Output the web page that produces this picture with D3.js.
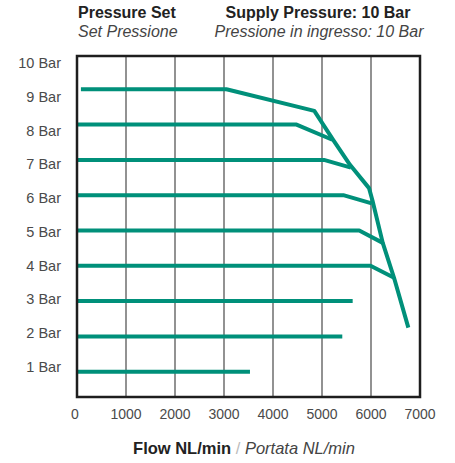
<!DOCTYPE html>
<html>
<head>
<meta charset="utf-8">
<script src="https://cdn.jsdelivr.net/npm/d3@7"></script>
<style>
  html, body { margin: 0; padding: 0; background: #fff; }
  svg { display: block; }
  text { font-family: "Liberation Sans", Arial, sans-serif; }
</style>
</head>
<body>
<svg id="chart" width="455" height="463"></svg>
<script>
// ---- data ----
const setPressures = [9, 8, 7, 6, 5, 4, 3, 2, 1];
const curveFlows = [
  [80, 3050, 4843, 5231, 5571, 5960, 6030, 6240, 6470, 6762],
  [0, 4480, 5210],
  [0, 5040, 5590],
  [0, 5435, 6014],
  [0, 5760, 6240],
  [0, 5990, 6470],
  [0, 5626],
  [0, 5414],
  [0, 3530]
];
const curvePressures = [
  [9, 9, 8.39, 7.56, 6.86, 6.2, 5.85, 4.65, 3.66, 2.25],
  [8, 8, 7.57],
  [7, 7, 6.78],
  [6, 6, 5.77],
  [5, 5, 4.65],
  [4, 4, 3.66],
  [3, 3],
  [2, 2],
  [1, 1]
];
const xTicks = [0, 1000, 2000, 3000, 4000, 5000, 6000, 7000];
const yTickValues = [10, 9, 8, 7, 6, 5, 4, 3, 2, 1];
const yTickLabels = ["10 Bar", "9 Bar", "8 Bar", "7 Bar", "6 Bar", "5 Bar", "4 Bar", "3 Bar", "2 Bar", "1 Bar"];

// ---- layout ----
const svg = d3.select("#chart");
const box = { left: 77, right: 420, top: 56, bottom: 397 };
const x = d3.scaleLinear().domain([0, 7000]).range([box.left, box.right]);
const y = d3.scaleLinear().domain([0, 10]).range([407, 54]);        // curves
const yLab = d3.scaleLinear().domain([0, 10]).range([400.4, 63]);   // axis labels

const teal = "#00907a";

// vertical grid
svg.append("g").selectAll("line")
  .data(xTicks.filter(d => d > 0 && d < 7000))
  .join("line")
  .attr("x1", d => x(d)).attr("x2", d => x(d))
  .attr("y1", box.top).attr("y2", box.bottom)
  .attr("stroke", "#6e6e6e").attr("stroke-width", 1.5);

// curves
const line = d3.line().x(p => x(p[0])).y(p => y(p[1]));
svg.append("g").selectAll("path")
  .data(curveFlows.map((fl, i) => fl.map((f, j) => [f, curvePressures[i][j]])))
  .join("path")
  .attr("d", line)
  .attr("fill", "none")
  .attr("stroke", teal)
  .attr("stroke-width", 4)
  .attr("stroke-linejoin", "round");

// box
svg.append("rect")
  .attr("x", box.left).attr("y", box.top)
  .attr("width", box.right - box.left).attr("height", box.bottom - box.top)
  .attr("fill", "none").attr("stroke", "#1e1e1e").attr("stroke-width", 2.5);

// x tick labels
svg.append("g").selectAll("text")
  .data(xTicks)
  .join("text")
  .attr("x", d => x(d) - (d === 0 ? 2 : 0))
  .attr("y", 419)
  .attr("text-anchor", "middle")
  .attr("font-size", 14)
  .attr("fill", "#4a4a4a")
  .text(d => d);

// y tick labels
svg.append("g").selectAll("text")
  .data(yTickValues)
  .join("text")
  .attr("x", 61)
  .attr("y", d => yLab(d))
  .attr("dy", "0.36em")
  .attr("text-anchor", "end")
  .attr("font-size", 14.5)
  .attr("fill", "#4a4a4a")
  .text((d, i) => yTickLabels[i]);

// header
svg.append("text").attr("x", 78).attr("y", 17.5)
  .attr("font-size", 16).attr("font-weight", "bold").attr("fill", "#222")
  .text("Pressure Set");
svg.append("text").attr("x", 78).attr("y", 37)
  .attr("font-size", 16).attr("font-style", "italic").attr("fill", "#444")
  .text("Set Pressione");
svg.append("text").attr("x", 318).attr("y", 17.5).attr("text-anchor", "middle")
  .attr("font-size", 16).attr("font-weight", "bold").attr("fill", "#222")
  .text("Supply Pressure: 10 Bar");
svg.append("text").attr("x", 319).attr("y", 37).attr("text-anchor", "middle")
  .attr("font-size", 16).attr("font-style", "italic").attr("fill", "#444")
  .text("Pressione in ingresso: 10 Bar");

// x title
const xt = svg.append("text").attr("x", 244).attr("y", 454).attr("text-anchor", "middle")
  .attr("font-size", 16.5);
xt.append("tspan").attr("font-weight", "bold").attr("fill", "#222").text("Flow NL/min");
xt.append("tspan").attr("fill", "#bbb").text(" / ");
xt.append("tspan").attr("font-style", "italic").attr("fill", "#444").text("Portata NL/min");
</script>
</body>
</html>
